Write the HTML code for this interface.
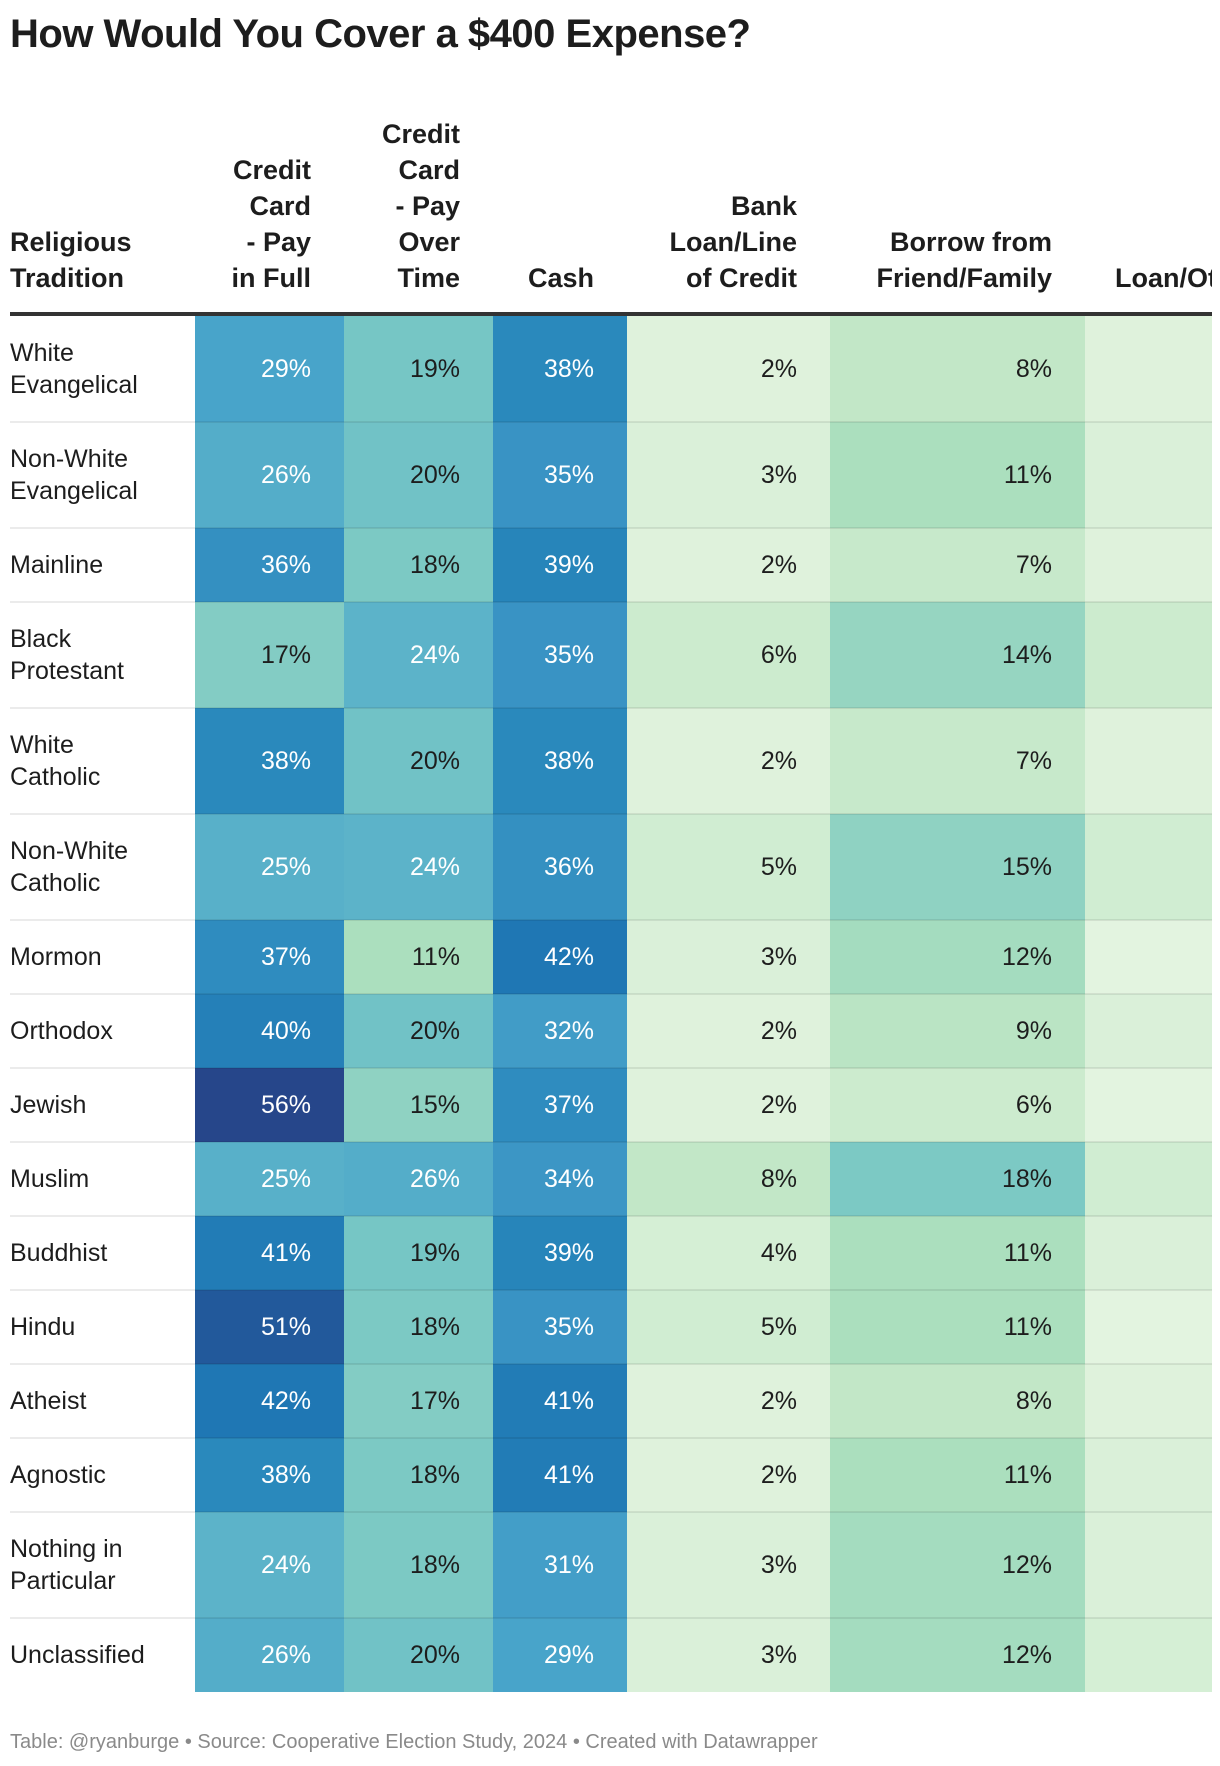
<!DOCTYPE html>
<html><head><meta charset="utf-8">
<style>
body{margin:0;background:#fff;width:1220px;height:1766px;overflow:hidden;font-family:"Liberation Sans",Roboto,sans-serif;color:#1d1d1d}
#title{position:absolute;left:10px;top:12px;font-size:40px;font-weight:bold;letter-spacing:-0.5px}
#tbl{position:absolute;left:0;top:0;width:1212px;height:1700px;overflow:hidden}
.h{position:absolute;font-weight:bold;font-size:27px;line-height:36px;text-align:right}
.c{position:absolute;box-sizing:border-box;font-size:25px;text-align:right;padding-right:33px;display:flex;align-items:center;justify-content:flex-end}
.l{position:absolute;left:10px;font-size:25px;line-height:32px;display:flex;align-items:center}
.d{position:absolute;height:2px;background:rgba(0,0,0,0.08)}
#foot{position:absolute;left:10px;top:1731px;font-size:20px;color:#8a8a8a}
</style></head><body>
<div id="title">How Would You Cover a $400 Expense?</div>
<div id="tbl"></div>
<div id="foot">Table: @ryanburge • Source: Cooperative Election Study, 2024 • Created with Datawrapper</div>
<script>
const rows=["White Evangelical","Non-White Evangelical","Mainline","Black Protestant","White Catholic","Non-White Catholic","Mormon","Orthodox","Jewish","Muslim","Buddhist","Hindu","Atheist","Agnostic","Nothing in Particular","Unclassified"];
const payFull=[29,26,36,17,38,25,37,40,56,25,41,51,42,38,24,26];
const payOver=[19,20,18,24,20,24,11,20,15,26,19,18,17,18,18,20];
const cash=[38,35,39,35,38,36,42,32,37,34,39,35,41,41,31,29];
const bank=[2,3,2,6,2,5,3,2,2,8,4,5,2,2,3,3];
const borrow=[8,11,7,14,7,15,12,9,6,18,11,11,8,11,12,12];
const loanOther=[2,3,2,6,2,5,1,3,1,5,3,1,2,3,3,4];
const series=[payFull,payOver,cash,bank,borrow,loanOther];
const headers=[["Religious","Tradition"],["Credit","Card","- Pay","in Full"],["Credit","Card","- Pay","Over","Time"],["Cash"],["Bank","Loan/Line","of Credit"],["Borrow from","Friend/Family"],["Loan/Other"]];
const twoLine=[1,1,0,1,1,1,0,0,0,0,0,0,0,0,1,0];
const colX=[195,344,493,627,830,1085,1300];
const stops=[[0,[232,246,227]],[8,[194,231,199]],[11,[171,223,190]],[15,[143,210,194]],[19,[118,198,197]],[24,[92,179,201]],[29,[72,164,202]],[35,[57,147,196]],[38,[42,137,188]],[42,[31,119,180]],[51,[34,89,155]],[56,[38,70,138]]];
function col(v){
  if(v<=stops[0][0])return 'rgb('+stops[0][1]+')';
  for(let i=1;i<stops.length;i++){if(v<=stops[i][0]){const a=stops[i-1],b=stops[i],t=(v-a[0])/(b[0]-a[0]);return 'rgb('+a[1].map((x,k)=>Math.round(x+(b[1][k]-x)*t)).join(',')+')';}}
  return 'rgb('+stops[stops.length-1][1]+')';
}
const T=document.getElementById('tbl');
headers.forEach((h,i)=>{
  const d=document.createElement('div');d.className='h';
  
  
  d.innerHTML=h.join('<br>');
  const n=h.length;d.style.top=(296-n*36)+'px';
  if(i===0){d.style.left='10px';d.style.textAlign='left';}
  else if(i===6){d.style.left='1115px';d.style.textAlign='left';d.style.whiteSpace='nowrap';}
  else{d.style.left=colX[i-1]+'px';d.style.width=(colX[i]-colX[i-1]-33)+'px';}
  T.appendChild(d);
});
const rule=document.createElement('div');


rule.style.cssText='position:absolute;left:10px;top:312px;width:1206px;height:4px;background:#333';
T.appendChild(rule);
let y=316;
rows.forEach((r,ri)=>{
  const h=twoLine[ri]?106:74;
  const lb=document.createElement('div');lb.className='l';
  
  
  lb.style.top=y+'px';lb.style.height=h+'px';lb.style.width='145px';
  lb.textContent=r;T.appendChild(lb);
  series.forEach((s,ci)=>{
    const c=document.createElement('div');c.className='c';
    
    
    const v=s[ri];
    c.style.left=colX[ci]+'px';c.style.top=y+'px';c.style.width=(Math.min(colX[ci+1],1212)-colX[ci])+'px';c.style.height=h+'px';
    c.style.background=col(v);c.style.color=v>=24?'#fff':'#1d1d1d';
    if(ci<5)c.textContent=v+'%';
    T.appendChild(c);
  });
  if(ri>0){
    const d=document.createElement('div');d.className='d';
    
    
    d.style.left='10px';d.style.width='1206px';d.style.top=(y-1)+'px';T.appendChild(d);
  }
  y+=h;
});
</script>
</body></html>
